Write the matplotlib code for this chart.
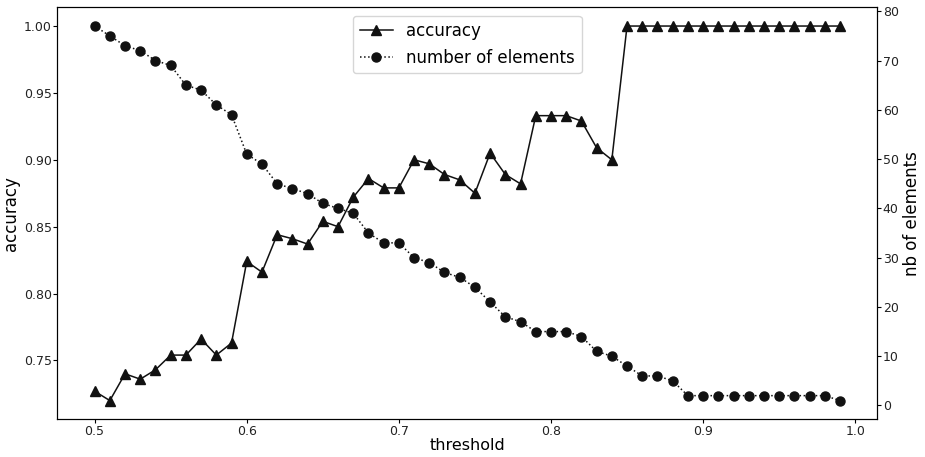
import numpy as np
import matplotlib
matplotlib.use("Agg")
import matplotlib.pyplot as plt

# 阈值 0.50 ~ 0.99
threshold = np.round(np.arange(0.50, 1.00, 0.01), 2)

# 准确率 (左轴)
accuracy = [
    0.727, 0.720, 0.740, 0.736, 0.743, 0.754, 0.754, 0.766, 0.754, 0.763,
    0.824, 0.816, 0.844, 0.841, 0.837, 0.854, 0.850, 0.872, 0.886, 0.879,
    0.879, 0.900, 0.897, 0.889, 0.885, 0.875, 0.905, 0.889, 0.882, 0.933,
    0.933, 0.933, 0.929, 0.909, 0.900, 1.000, 1.000, 1.000, 1.000, 1.000,
    1.000, 1.000, 1.000, 1.000, 1.000, 1.000, 1.000, 1.000, 1.000, 1.000,
]

# 元素个数 (右轴)
n_elements = [
    77, 75, 73, 72, 70, 69, 65, 64, 61, 59,
    51, 49, 45, 44, 43, 41, 40, 39, 35, 33,
    33, 30, 29, 27, 26, 24, 21, 18, 17, 15,
    15, 15, 14, 11, 10, 8, 6, 6, 5, 2,
    2, 2, 2, 2, 2, 2, 2, 2, 2, 1,
]

fig = plt.figure(figsize=(9.25, 4.57), dpi=100)
ax1 = fig.add_axes([0.062, 0.0825, 0.8864, 0.9015])
ax2 = ax1.twinx()

l1, = ax1.plot(threshold, accuracy, "-", c="#111111", lw=1.1,
               marker="^", markersize=7, label="accuracy")
l2, = ax2.plot(threshold, n_elements, ":", c="#111111", lw=1.1,
               marker="o", markersize=6.5, label="number of elements")

ax1.set_xlabel("threshold", fontsize=11.5, labelpad=0)
ax1.set_ylabel("accuracy", fontsize=12, labelpad=3)
ax2.set_ylabel("nb of elements", fontsize=12, labelpad=3)

ax1.set_yticks([0.75, 0.80, 0.85, 0.90, 0.95, 1.00])
ax2.set_yticks(range(0, 81, 10))
for a in (ax1, ax2):
    a.tick_params(labelsize=9, length=3, pad=1, labelcolor="#222222")

ax1.legend(handles=[l1, l2], loc="upper center", fontsize=12)

fig.savefig("out.png", dpi=100)
